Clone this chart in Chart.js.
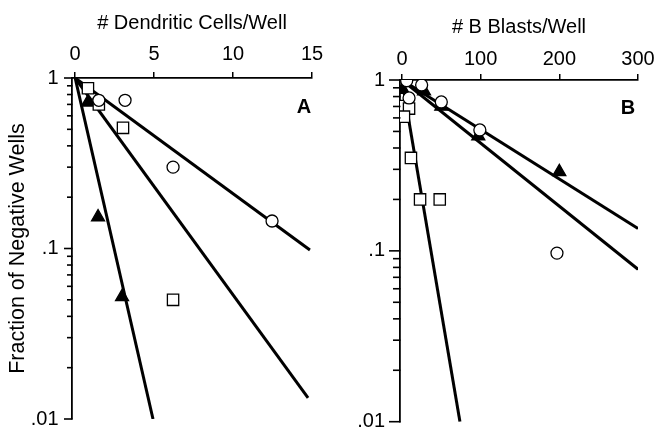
<!DOCTYPE html>
<html><head><meta charset="utf-8">
<script src="https://cdn.jsdelivr.net/npm/chart.js@4/dist/chart.umd.min.js"></script>
<style>
html,body{margin:0;padding:0;background:#fff;}
#wrap{position:relative;width:655px;height:431px;overflow:hidden;background:#fff;}
canvas{position:absolute;top:0;}
.lbl{position:absolute;font:bold 20px 'Liberation Sans',Arial,sans-serif;line-height:20px;transform:translate(-50%,-50%);color:#000;}
</style></head><body>
<div id="wrap">
<canvas id="ca" width="330" height="431" style="left:0"></canvas>
<canvas id="cb" width="325" height="431" style="left:330px"></canvas>
<div class="lbl" style="left:304px;top:106px">A</div>
<div class="lbl" style="left:628px;top:107px">B</div>
</div>
<script>
// ---------- Panel A: dendritic cells ----------
const aXTicks = [0, 5, 10, 15];
const aCircleX = [1.5, 3.16, 6.2, 12.47];
const aCircleY = [0.74, 0.74, 0.30, 0.145];
const aSquareX = [0.81, 1.5, 3.03, 6.2];
const aSquareY = [0.87, 0.70, 0.51, 0.05];
const aTriangleX = [0.81, 1.45, 2.97];
const aTriangleY = [0.72, 0.153, 0.052];
const aFitCircleX = [0, 14.87];
const aFitCircleY = [1, 0.098];
const aFitSquareX = [0, 14.75];
const aFitSquareY = [1, 0.0133];
const aFitTriangleX = [0, 4.93];
const aFitTriangleY = [1, 0.01];

// ---------- Panel B: B blasts ----------
const bXTicks = [0, 100, 200, 300];
const bCircleX = [6, 25, 9, 50, 99, 197];
const bCircleY = [0.99, 0.935, 0.785, 0.744, 0.51, 0.097];
const bSquareX = [0, 9, 2.5, 11.4, 23, 48];
const bSquareY = [0.705, 0.68, 0.61, 0.35, 0.2, 0.2];
const bTriangleX = [1, 28, 50, 97, 200];
const bTriangleY = [0.88, 0.86, 0.70, 0.47, 0.29];
const bFitCircleX = [0, 300];
const bFitCircleY = [1, 0.078];
const bFitTriangleX = [0, 300];
const bFitTriangleY = [1, 0.135];
const bFitSquareX = [0, 73.7];
const bFitSquareY = [1, 0.01];

// ---------- shared log axis ticks ----------
const yTickValues = [0.01,0.02,0.03,0.04,0.05,0.06,0.07,0.08,0.09,0.1,0.2,0.3,0.4,0.5,0.6,0.7,0.8,0.9,1];
const yTickLabels = ['.01','','','','','','','','','.1','','','','','','','','','1'];

const F = "'Liberation Sans', Arial, Helvetica, sans-serif";
Chart.defaults.font.family = F;
Chart.defaults.color = '#000';

const pts = (xs, ys) => xs.map((x, i) => ({x: x, y: ys[i]}));

function markers(xs, ys, style) {
  const base = {data: pts(xs, ys), showLine: false, order: 1, borderColor: '#000', borderWidth: 1.3};
  if (style === 'circle') return Object.assign(base, {pointStyle: 'circle', pointRadius: 6, backgroundColor: '#fff'});
  if (style === 'rect') return Object.assign(base, {pointStyle: 'rect', pointRadius: 8, backgroundColor: '#fff'});
  return Object.assign(base, {pointStyle: 'triangle', pointRadius: 7.5, backgroundColor: '#000'});
}
function fit(xs, ys) {
  return {data: pts(xs, ys), showLine: true, order: 2, borderColor: '#000', borderWidth: 3, pointRadius: 0, fill: false};
}

// draws the log-axis tick marks (long for labelled decades, short for the rest)
function makeTickPlugin(majorLen, minorLen) {
  return {
    id: 'logTickMarks',
    afterDraw(chart) {
      const s = chart.scales.y;
      const ctx = chart.ctx;
      const x0 = chart.chartArea.left;
      ctx.save();
      ctx.strokeStyle = '#000';
      ctx.lineWidth = 1.6;
      for (let i = 0; i < yTickValues.length; i++) {
        const y = s.getPixelForValue(yTickValues[i]);
        const len = yTickLabels[i] !== '' ? majorLen : minorLen;
        ctx.beginPath();
        ctx.moveTo(x0 - len, y);
        ctx.lineTo(x0 + 0.5, y);
        ctx.stroke();
      }
      ctx.restore();
    }
  };
}

function makeChart(id, cfg) {
  return new Chart(document.getElementById(id), {
    type: 'scatter',
    data: {datasets: cfg.datasets},
    plugins: [makeTickPlugin(cfg.yMajorLen, cfg.yMinorLen)],
    options: {
      responsive: false,
      animation: false,
      events: [],
      layout: {padding: cfg.padding},
      plugins: {legend: {display: false}, tooltip: {enabled: false}},
      scales: {
        x: {
          type: 'linear', position: 'top', min: cfg.xMin, max: cfg.xMax,
          afterBuildTicks: s => { s.ticks = cfg.xTicks.map(v => ({value: v})); },
          afterFit: s => { s.height = cfg.xHeight; s.paddingLeft = 0; s.paddingRight = 0; },
          grid: {drawOnChartArea: false, drawTicks: true, tickLength: 6, color: '#000', lineWidth: 1.5},
          border: {display: true, color: '#000', width: 1.8},
          ticks: {padding: cfg.xTickPad, color: '#000', font: {size: 20, family: F}, maxRotation: 0, autoSkip: false},
          title: {display: true, text: cfg.xTitle, color: '#000', font: {size: 20, family: F}, padding: {top: cfg.xTitlePad, bottom: 0}}
        },
        y: {
          type: 'logarithmic', position: 'left', min: 0.01, max: 1,
          afterBuildTicks: s => { s.ticks = yTickValues.map(v => ({value: v})); },
          afterFit: s => { s.width = cfg.yWidth; s.paddingTop = 0; s.paddingBottom = 0; },
          grid: {drawOnChartArea: false, drawTicks: false, color: '#000', lineWidth: 1.5},
          border: {display: true, color: '#000', width: 1.8},
          ticks: {padding: cfg.yTickPad, color: '#000', font: {size: 20, family: F}, autoSkip: false,
                  callback: (v, i) => yTickLabels[i]},
          title: {display: !!cfg.yTitle, text: cfg.yTitle || '', color: '#000', font: {size: 21.5, family: F}, padding: {top: 5, bottom: 0}}
        }
      }
    }
  });
}

makeChart('ca', {
  datasets: [
    markers(aCircleX, aCircleY, 'circle'),
    markers(aSquareX, aSquareY, 'rect'),
    markers(aTriangleX, aTriangleY, 'triangle'),
    fit(aFitCircleX, aFitCircleY),
    fit(aFitSquareX, aFitSquareY),
    fit(aFitTriangleX, aFitTriangleY)
  ],
  padding: {left: 0, right: 18, top: 0, bottom: 12},
  xMin: -0.2, xMax: 15, xTicks: aXTicks, xHeight: 78, xTickPad: 5.5, xTitlePad: 11,
  xTitle: '# Dendritic Cells/Well',
  yWidth: 72, yTickPad: 13.5, yMajorLen: 8, yMinorLen: 5,
  yTitle: 'Fraction of Negative Wells'
});

makeChart('cb', {
  datasets: [
    markers(bCircleX, bCircleY, 'circle'),
    markers(bSquareX, bSquareY, 'rect'),
    markers(bTriangleX, bTriangleY, 'triangle'),
    fit(bFitCircleX, bFitCircleY),
    fit(bFitTriangleX, bFitTriangleY),
    fit(bFitSquareX, bFitSquareY)
  ],
  padding: {left: 0, right: 17, top: 0, bottom: 8},
  xMin: -2.5, xMax: 300, xTicks: bXTicks, xHeight: 80, xTickPad: 3, xTitlePad: 15,
  xTitle: '# B Blasts/Well',
  yWidth: 70, yTickPad: 15, yMajorLen: 11, yMinorLen: 7,
  yTitle: ''
});
</script>
</body></html>
